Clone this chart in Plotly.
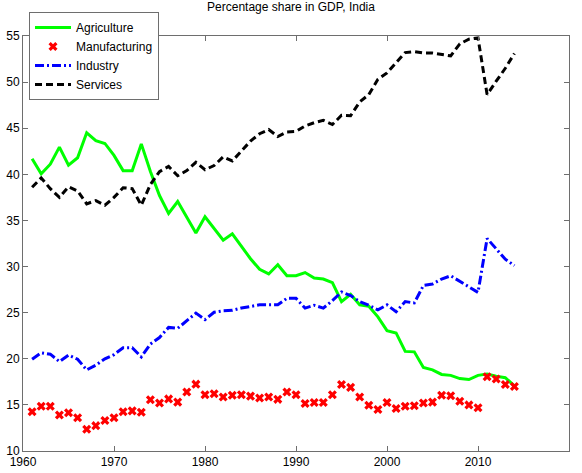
import plotly.graph_objects as go

years = list(range(1961, 2015))

agriculture = [41.7, 40.05, 41.1, 42.95, 41.0, 41.8, 44.5, 43.65, 43.35, 42.05,
               40.4, 40.4, 43.3, 40.3, 37.7, 35.75, 37.05, 35.4, 33.65, 35.4,
               34.1, 32.85, 33.55, 32.2, 30.85, 29.7, 29.2, 30.2, 29.0, 29.0,
               29.35, 28.75, 28.65, 28.25, 26.2, 27.0, 25.85, 25.7, 24.55, 23.05,
               22.8, 20.8, 20.75, 19.05, 18.8, 18.3, 18.2, 17.85, 17.75, 18.2,
               18.35, 18.1, 17.95, 17.05]

manufacturing = [14.25, 14.85, 14.85, 13.9, 14.15, 13.6, 12.35, 12.75, 13.3, 13.6,
                 14.25, 14.35, 14.2, 15.55, 15.2, 15.65, 15.3, 16.4, 17.25, 16.1,
                 16.2, 15.85, 16.05, 16.1, 15.95, 15.75, 15.85, 15.6, 16.4, 16.1,
                 15.15, 15.25, 15.25, 16.1, 17.2, 16.9, 15.85, 14.95, 14.5, 15.25,
                 14.6, 14.85, 14.9, 15.2, 15.3, 16.05, 16.0, 15.4, 15.0, 14.7,
                 18.05, 17.8, 17.2, 17.0]

industry = [19.95, 20.65, 20.5, 19.7, 20.4, 19.95, 18.8, 19.3, 20.0, 20.45,
            21.2, 21.2, 20.2, 21.6, 22.3, 23.4, 23.3, 24.1, 24.95, 24.25,
            25.05, 25.2, 25.25, 25.5, 25.7, 25.85, 25.85, 25.85, 26.55, 26.55,
            25.5, 25.8, 25.5, 26.3, 27.25, 26.85, 26.2, 25.8, 25.3, 25.85,
            25.1, 26.2, 26.05, 27.95, 28.1, 28.65, 29.0, 28.4, 27.8, 27.2,
            33.05, 31.9, 30.8, 30.1]

services = [38.6, 39.6, 38.45, 37.5, 38.65, 38.2, 36.8, 37.15, 36.65, 37.5,
            38.55, 38.45, 36.65, 38.9, 40.3, 40.85, 39.85, 40.4, 41.3, 40.5,
            40.95, 41.9, 41.45, 42.5, 43.6, 44.4, 44.85, 44.1, 44.6, 44.65,
            45.25, 45.6, 45.85, 45.4, 46.4, 46.35, 47.85, 48.65, 50.3, 51.0,
            52.1, 53.2, 53.3, 53.15, 53.15, 53.0, 52.85, 54.15, 54.65, 54.8,
            48.65, 50.1, 51.5, 53.1]

x_ticks = [1960, 1970, 1980, 1990, 2000, 2010, 2020]
y_ticks = [10, 15, 20, 25, 30, 35, 40, 45, 50, 55]

fig = go.Figure()
fig.add_trace(go.Scatter(x=years, y=agriculture, mode="lines", name="Agriculture",
                         line=dict(color="#00FF00", width=3)))
fig.add_trace(go.Scatter(x=years, y=manufacturing, mode="markers", name="Manufacturing",
                         marker=dict(symbol="x", color="#FF0000", size=8,
                                     line=dict(width=0))))
fig.add_trace(go.Scatter(x=years, y=industry, mode="lines", name="Industry",
                         line=dict(color="#0000FF", width=3, dash="9px,3px,2px,3px")))
fig.add_trace(go.Scatter(x=years, y=services, mode="lines", name="Services",
                         line=dict(color="#000000", width=3, dash="7px,4px")))

axis_common = dict(showgrid=False, zeroline=False, showline=True, linecolor="#6E6E6E",
                   linewidth=1, mirror="allticks", ticks="inside", ticklen=5,
                   tickcolor="#6E6E6E", tickfont=dict(size=12, color="#000000"),
                   automargin=False)

fig.update_layout(
    width=582, height=473,
    margin=dict(l=23, r=13, t=22, b=22),
    paper_bgcolor="white", plot_bgcolor="white",
    font=dict(family="Liberation Sans, Arial, sans-serif", size=12, color="#000000"),
    title=dict(text="Percentage share in GDP, India", x=0.5, xanchor="center",
               y=0.995, yanchor="top", font=dict(size=12)),
    xaxis=dict(range=[1960, 2020], tickvals=x_ticks, **axis_common),
    yaxis=dict(range=[10, 55], tickvals=y_ticks, **axis_common),
    legend=dict(x=0.011, y=1.058, xanchor="left", yanchor="top",
                bgcolor="white", bordercolor="#6E6E6E", borderwidth=1,
                font=dict(size=12), tracegroupgap=0, itemwidth=36),
    showlegend=True,
)

fig.write_html("out.html",
               config={"displayModeBar": False},
               post_script="document.body.style.margin='0';document.body.style.overflow='hidden';")
